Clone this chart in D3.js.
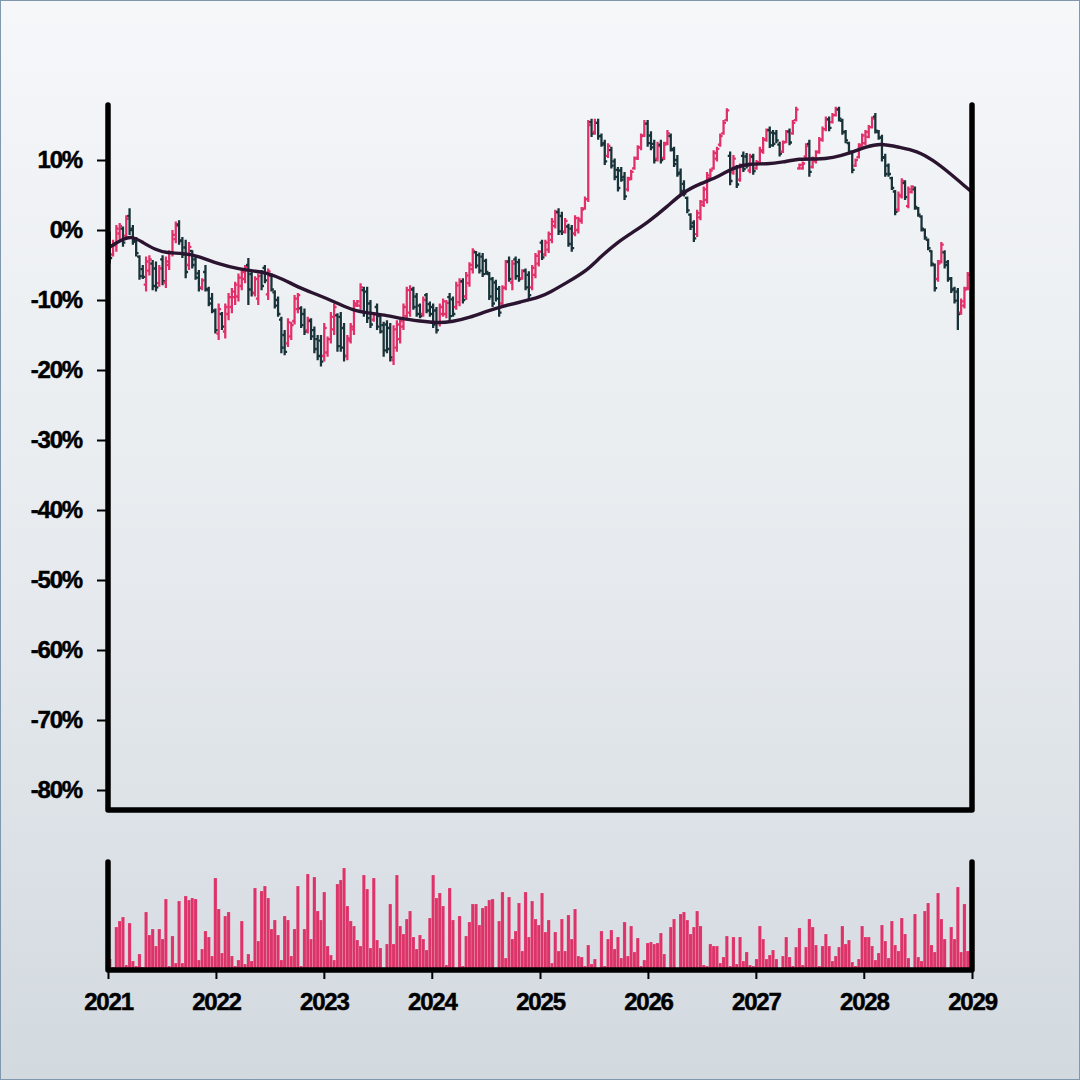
<!DOCTYPE html>
<html>
<head>
<meta charset="utf-8">
<script src="https://cdn.jsdelivr.net/npm/d3@7"></script>
<style>
html,body{margin:0;padding:0;}
body{width:1080px;height:1080px;overflow:hidden;}
</style>
</head>
<body>
<svg id="chart" width="1080" height="1080"></svg>
<script>
// ---------------- DATA (in %) ----------------
const openV = [-1.0,-3.5,-2.2,-0.5,0.2,-0.8,2.0,0.2,-1.5,-3.8,
-5.6,-7.8,-5.8,-4.8,-5.5,-7.6,-4.2,-7.5,-5.0,-3.3,
-1.3,0.8,-1.5,-2.5,-5.0,-3.0,-4.2,-6.2,-8.2,-6.0,
-8.6,-9.8,-11.6,-14.8,-12.0,-14.5,-12.0,-11.0,-9.6,-9.5,
-8.0,-7.0,-5.0,-6.3,-9.0,-9.8,-6.0,-5.4,-9.2,-6.5,
-8.9,-10.0,-12.8,-15.0,-16.2,-15.2,-13.0,-11.3,-11.2,-12.0,
-14.3,-13.0,-14.3,-15.6,-15.8,-18.0,-17.5,-15.6,-14.2,-12.2,
-12.4,-14.0,-18.0,-15.8,-14.2,-10.8,-10.8,-8.6,-8.8,-10.5,
-12.8,-11.0,-12.3,-13.6,-13.5,-14.0,-18.6,-16.8,-15.6,-13.8,
-12.3,-11.8,-8.5,-9.5,-10.8,-12.0,-9.3,-10.6,-11.0,-11.5,
-13.3,-12.0,-12.0,-9.6,-9.9,-11.0,-10.3,-7.3,-9.5,-7.6,
-5.6,-3.2,-3.6,-3.8,-4.4,-6.3,-7.0,-7.5,-8.4,-10.5,
-8.2,-4.5,-7.5,-4.2,-4.6,-6.9,-5.8,-6.4,-8.2,-6.4,
-4.8,-1.8,-3.5,-2.8,-1.4,0.6,2.6,2.0,-0.2,0.5,
0.2,-0.5,0.0,1.3,3.1,4.4,15.4,14.0,15.3,13.4,
12.4,10.6,11.4,9.8,8.6,8.5,7.6,5.8,7.4,8.8,
10.3,11.8,13.5,15.2,13.5,12.3,10.2,12.2,10.3,12.4,
13.4,11.4,10.0,8.2,6.6,4.6,2.2,1.0,-0.6,1.8,
3.6,4.3,7.4,8.8,10.2,12.2,13.8,15.7,10.6,8.2,
8.8,7.2,10.6,10.5,8.5,10.5,8.8,9.6,11.2,12.9,
14.3,13.9,13.8,12.2,11.2,12.6,14.1,13.8,15.7,8.8,
8.8,10.5,12.3,9.0,9.8,11.2,12.9,14.4,15.8,15.4,
16.4,17.2,15.6,14.0,12.4,11.0,9.2,10.4,12.2,12.4,
13.3,14.7,16.2,14.0,13.2,10.4,9.2,7.4,5.5,2.9,
4.8,6.7,3.4,5.4,5.8,3.1,1.9,0.0,-1.4,-3.0,
-5.0,-7.0,-4.5,-3.2,-4.6,-6.9,-8.4,-8.8,-11.8,-10.8,
-8.3];
const highV = [-0.2,-1.4,0.7,1.0,0.5,2.1,3.1,0.7,-1.0,-3.6,
-5.0,-3.8,-3.6,-4.3,-4.5,-5.0,-3.6,-3.8,-2.9,0.0,
1.2,1.4,-1.0,-1.4,-1.7,-2.9,-3.6,-5.7,-6.9,-5.0,
-8.1,-9.0,-11.2,-10.5,-11.7,-10.5,-9.0,-8.3,-7.4,-6.2,
-5.7,-5.0,-4.0,-5.7,-6.6,-6.2,-5.7,-5.0,-5.5,-6.2,
-8.6,-9.5,-12.4,-14.3,-12.6,-13.1,-9.3,-9.0,-10.9,-11.2,
-12.4,-12.6,-13.8,-15.0,-15.0,-13.3,-15.2,-11.7,-10.5,-11.9,
-11.7,-13.3,-15.0,-13.3,-10.0,-10.0,-7.6,-8.1,-8.1,-10.0,
-11.7,-10.5,-11.9,-13.1,-12.9,-13.3,-13.6,-12.9,-12.6,-10.5,
-8.1,-7.9,-8.1,-9.0,-10.5,-9.5,-9.0,-10.2,-10.5,-11.0,
-10.5,-9.8,-10.0,-9.0,-9.5,-7.4,-6.9,-6.9,-6.0,-4.6,
-2.6,-3.0,-3.2,-3.3,-4.1,-6.0,-6.7,-7.1,-8.0,-7.9,
-4.3,-3.8,-4.3,-3.8,-4.1,-5.6,-5.5,-5.9,-5.0,-3.3,
-2.9,-1.4,-1.4,-0.2,1.7,2.9,3.1,2.6,1.7,0.9,
0.7,2.1,1.9,3.3,4.8,15.7,15.9,15.9,15.9,13.8,
12.9,12.4,11.9,10.2,9.0,9.0,8.3,7.6,8.6,10.5,
12.1,13.8,15.7,15.7,14.1,12.9,12.6,12.9,12.6,14.3,
13.8,11.9,10.7,8.8,7.1,4.8,2.4,1.4,2.9,4.3,
6.2,8.3,8.8,11.4,11.9,13.8,15.7,17.4,11.2,10.7,
9.3,9.5,11.2,11.0,10.9,10.9,10.0,11.9,13.3,14.5,
14.8,14.3,14.3,12.6,12.8,14.3,14.5,15.7,17.6,9.5,
9.8,12.4,12.9,10.5,11.4,13.3,14.8,16.2,16.2,16.7,
17.6,17.6,15.9,14.3,12.6,11.4,10.2,12.4,13.8,14.3,
15.0,16.2,16.7,14.3,13.6,10.9,9.5,7.6,5.7,5.5,
7.4,7.1,6.2,6.4,6.2,3.3,2.1,0.2,-1.2,-2.9,
-4.8,-4.3,-1.7,-2.9,-4.3,-6.7,-8.1,-8.3,-9.8,-8.1,
-6.0];
const lowV = [-4.8,-3.8,-3.1,-1.4,-2.4,-1.0,-0.7,-2.1,-3.8,-7.1,
-7.0,-8.8,-6.5,-8.6,-8.8,-8.1,-7.9,-8.3,-5.7,-3.8,
-1.9,-2.1,-4.0,-6.9,-5.7,-5.5,-7.1,-8.8,-8.6,-8.8,
-10.9,-11.9,-14.8,-15.7,-14.3,-15.5,-12.9,-11.9,-10.7,-10.2,
-8.6,-7.6,-10.7,-9.5,-9.5,-10.7,-8.6,-7.6,-10.0,-8.8,
-11.2,-12.4,-17.6,-17.9,-16.7,-15.7,-13.5,-11.9,-14.0,-15.0,
-14.8,-15.7,-17.6,-18.6,-19.5,-18.8,-18.1,-16.2,-15.0,-17.4,
-17.4,-18.8,-18.6,-16.2,-15.0,-11.0,-11.4,-12.4,-13.3,-14.0,
-13.1,-14.3,-14.8,-18.1,-17.6,-18.8,-19.3,-17.4,-16.2,-14.3,
-12.9,-12.4,-11.4,-12.4,-12.6,-12.4,-11.9,-12.4,-14.0,-14.8,
-13.8,-12.4,-12.6,-12.9,-12.4,-11.4,-10.9,-10.5,-10.0,-8.1,
-6.2,-5.5,-6.2,-6.7,-6.4,-10.0,-11.0,-10.2,-12.4,-11.0,
-8.6,-7.4,-8.6,-7.1,-7.4,-7.1,-8.6,-9.9,-8.6,-6.9,
-5.2,-4.3,-3.8,-3.3,-1.9,0.2,-0.7,-0.7,-0.5,-2.4,
-3.1,-0.9,-0.5,0.9,2.9,4.0,13.3,13.6,12.9,11.9,
9.3,10.3,8.8,7.1,5.5,6.9,4.3,5.5,7.1,8.6,
10.0,11.4,13.3,11.9,11.4,9.5,9.8,9.5,10.0,12.1,
11.2,9.0,7.6,5.0,4.8,2.4,0.0,-1.7,-1.0,1.4,
3.3,3.8,7.1,8.6,9.8,11.9,13.6,15.5,6.4,7.9,
6.0,6.9,8.3,8.8,8.1,7.9,8.6,9.3,10.9,12.6,
11.7,11.9,12.4,10.5,11.0,12.4,12.1,13.6,15.5,8.6,
8.6,10.2,7.6,8.8,9.5,10.9,12.6,14.1,14.1,15.2,
16.2,15.5,13.6,12.4,10.9,8.1,9.0,10.2,11.9,12.1,
13.1,14.5,13.8,12.9,9.8,7.6,7.6,5.7,2.1,2.6,
4.5,4.3,3.1,5.2,2.9,1.9,-0.2,-1.4,-2.9,-5.2,
-8.8,-7.4,-4.8,-5.5,-7.4,-9.0,-10.5,-14.3,-12.1,-11.2,
-8.6];
const closeV = [-4.0,-2.0,0.2,0.6,-1.8,1.6,0.0,-1.7,-3.3,-6.6,
-6.7,-4.5,-4.2,-8.0,-8.2,-5.5,-7.3,-4.5,-3.2,-0.7,
0.6,-1.6,-3.5,-6.0,-2.4,-5.0,-6.8,-8.3,-7.2,-8.4,
-10.5,-11.5,-14.3,-11.3,-13.8,-11.0,-9.6,-8.8,-7.8,-6.8,
-6.0,-5.3,-8.5,-9.0,-7.0,-6.6,-8.0,-7.2,-5.9,-8.5,
-10.8,-12.0,-16.8,-17.4,-13.2,-13.6,-9.8,-9.3,-13.6,-14.5,
-12.8,-15.2,-17.0,-18.0,-18.8,-14.0,-15.6,-12.4,-11.0,-16.6,
-16.8,-18.0,-15.5,-13.8,-10.5,-10.2,-8.2,-11.8,-12.6,-13.5,
-12.0,-13.8,-14.5,-17.2,-17.0,-18.2,-14.2,-13.5,-13.0,-11.0,
-8.6,-8.4,-11.0,-12.0,-12.3,-10.0,-11.5,-12.0,-13.5,-14.3,
-11.0,-10.2,-10.4,-12.3,-12.0,-7.9,-7.4,-10.0,-6.5,-5.0,
-3.0,-5.1,-5.8,-6.3,-6.0,-9.5,-10.5,-9.8,-11.8,-8.3,
-4.6,-7.0,-4.8,-6.6,-7.0,-5.9,-8.2,-9.3,-5.4,-3.7,
-3.1,-3.9,-1.8,-0.6,1.2,2.5,-0.2,-0.3,1.3,-2.0,
-2.6,1.7,1.5,2.9,4.4,15.0,13.8,15.3,13.4,12.2,
9.8,12.0,9.2,7.6,6.0,7.2,4.8,7.2,8.3,10.2,
11.8,13.4,15.2,12.4,11.8,10.0,12.0,10.0,12.2,13.8,
11.6,9.4,8.0,5.6,5.2,2.8,0.5,-1.2,2.4,4.0,
5.8,7.8,8.5,11.0,11.6,13.4,15.3,17.1,7.0,10.2,
6.5,9.0,8.7,9.2,10.4,8.4,9.7,11.4,12.9,14.2,
12.1,12.3,12.8,10.9,12.5,14.0,12.5,15.3,17.2,9.3,
9.5,12.0,8.3,10.2,11.1,12.9,14.4,15.8,14.6,16.4,
17.3,15.9,14.0,12.8,11.2,8.6,10.0,12.0,13.5,14.0,
14.7,15.9,14.2,13.2,10.3,8.0,8.0,6.0,2.6,5.0,
7.0,4.7,5.8,6.2,3.3,2.2,0.2,-1.1,-2.6,-4.8,
-8.3,-4.8,-2.1,-5.0,-7.0,-8.6,-10.1,-12.0,-10.2,-8.5,
-6.4];
const volumeV = [9,1,41,47,51,3,45,7,2,14,
1,56,33,39,22,39,29,69,2,32,
5,67,5,72,68,70,69,8,19,37,
31,12,90,59,15,52,56,12,2,8,
47,4,14,7,80,27,77,82,70,39,
48,33,8,52,48,12,39,82,2,39,
94,29,91,57,48,76,22,13,8,84,
88,100,62,47,42,28,22,93,79,20,
90,28,20,0,24,64,24,93,42,34,
49,57,31,19,33,29,18,50,93,70,
75,62,3,80,48,0,52,2,32,46,
64,64,43,60,62,68,69,0,47,76,
10,71,29,37,65,17,76,31,67,49,
43,75,36,48,5,36,17,49,17,53,
29,59,12,11,2,23,4,9,0,37,
2,29,38,19,31,10,46,12,42,16,
30,2,8,25,26,24,25,35,14,0,
41,49,0,54,56,48,34,41,57,42,
3,2,24,22,22,5,11,32,2,31,
4,31,7,16,3,2,9,42,29,9,
13,18,9,0,12,31,11,2,21,40,
3,21,49,41,23,2,22,34,22,7,
12,21,42,24,28,6,2,9,42,31,
31,22,8,15,43,27,10,47,23,17,
50,34,10,0,54,11,7,57,65,23,
16,75,49,29,0,41,29,81,16,64,
17];
// moving-average line, read at fractional years
const maYears = [2021.019,2021.111,2021.222,2021.324,2021.435,2021.546,2021.694,2021.852,2022.009,2022.222,
2022.361,2022.472,2022.620,2022.778,2022.935,2023.120,2023.269,2023.426,2023.583,2023.731,
2023.889,2024.046,2024.194,2024.352,2024.509,2024.657,2024.815,2025.000,2025.093,2025.250,
2025.435,2025.556,2025.713,2025.861,2025.991,2026.176,2026.324,2026.481,2026.667,2026.787,
2026.944,2027.102,2027.250,2027.407,2027.565,2027.713,2027.870,2028.028,2028.148,2028.333,
2028.491,2028.639,2028.796,2028.954,2029.000];
const maValues = [-2.4,-1.5,-0.8,-1.8,-2.8,-3.3,-3.3,-3.8,-4.8,-5.6,
-5.9,-6.1,-7.0,-8.3,-9.2,-10.4,-11.5,-11.9,-12.2,-12.7,
-13.0,-13.3,-13.1,-12.5,-11.6,-10.9,-10.3,-9.6,-8.9,-7.5,
-5.8,-3.9,-1.8,-0.3,1.0,3.3,5.4,6.6,7.7,8.9,
9.5,9.4,9.7,10.2,10.1,10.3,11.0,11.9,12.4,11.8,
11.3,10.0,8.1,6.0,5.4];
const yTicks = [10,0,-10,-20,-30,-40,-50,-60,-70,-80];
const xTickYears = [2021,2022,2023,2024,2025,2026,2027,2028,2029];
const barStartDate = new Date(2021,0,7);
const barStepDays = 11.16;

// ---------------- LAYOUT ----------------
const W = 1080, H = 1080;
const left = 108, right = 972;
const pTop = 105, pBottom = 810;
const vTop = 862, vBottom = 968;
const PINK = "#e0306a", DARK = "#173238", MA = "#2a1430", VOL = "#dc3369";
const FONT = "'Liberation Sans', Arial, Helvetica, sans-serif";

const svg = d3.select("#chart");
const defs = svg.append("defs");
const bg = defs.append("linearGradient").attr("id","bg").attr("x1",0).attr("y1",0).attr("x2",0).attr("y2",1);
bg.append("stop").attr("offset","0%").attr("stop-color","#f5f7f9");
bg.append("stop").attr("offset","55%").attr("stop-color","#e6eaee");
bg.append("stop").attr("offset","100%").attr("stop-color","#d2d9df");
svg.append("rect").attr("x",0).attr("y",0).attr("width",W).attr("height",H).attr("fill","url(#bg)");
svg.append("rect").attr("x",0.5).attr("y",0.5).attr("width",W-1).attr("height",H-1)
  .attr("fill","none").attr("stroke","#7f98b0").attr("stroke-width",1);

const dates = openV.map((_, i) => new Date(barStartDate.getTime() + i * barStepDays * 864e5));
const bars = dates.map((d, i) => ({d, o: openV[i], h: highV[i], l: lowV[i], c: closeV[i], v: volumeV[i]}));

const x = d3.scaleTime().domain([new Date(2021,0,1), new Date(2029,0,1)]).range([left, right]);
const y = d3.scaleLinear().domain([-82.857, 17.857]).range([pBottom, pTop]);
const yv = d3.scaleLinear().domain([0, 106]).range([vBottom, vTop]);

function yearToDate(t){
  const yr = Math.floor(t);
  const a = new Date(yr,0,1).getTime(), b = new Date(yr+1,0,1).getTime();
  return new Date(a + (t - yr) * (b - a));
}

// ---------------- OHLC BARS ----------------
const tw = 2.4;
function barPath(b){
  const cx = x(b.d);
  return `M${cx},${y(b.h)}V${y(b.l)}M${cx-tw},${y(b.o)}H${cx}M${cx},${y(b.c)}H${cx+tw}`;
}
const gBars = svg.append("g");
gBars.selectAll("path.halo").data(bars).join("path")
  .attr("class","halo").attr("d", barPath)
  .attr("fill","none").attr("stroke","rgba(255,255,255,0.5)").attr("stroke-width",3.8);
gBars.selectAll("path.bar").data(bars).join("path")
  .attr("class","bar").attr("d", barPath)
  .attr("fill","none").attr("stroke", b => b.c >= b.o ? PINK : DARK).attr("stroke-width",2.3);

// ---------------- MOVING AVERAGE ----------------
const maData = maYears.map((t, i) => ({d: yearToDate(t), v: maValues[i]}));
svg.append("path").datum(maData)
  .attr("d", d3.line().x(p => x(p.d)).y(p => y(p.v)).curve(d3.curveBasis))
  .attr("fill","none").attr("stroke",MA).attr("stroke-width",3.4).attr("stroke-linejoin","round").attr("stroke-linecap","round");

// ---------------- VOLUME ----------------
const vbw = 3.3;
svg.append("g").selectAll("rect").data(bars).join("rect")
  .attr("x", b => x(b.d) - vbw/2)
  .attr("y", b => yv(b.v))
  .attr("width", vbw)
  .attr("height", b => vBottom - yv(b.v))
  .attr("fill", VOL)
  .attr("stroke","rgba(255,255,255,0.3)").attr("stroke-width",0.5);

// ---------------- AXES ----------------
const axisColor = "#000";
const yAxis = d3.axisLeft(y).tickValues(yTicks).tickFormat(d => d + "%").tickSize(9).tickPadding(15);
const gy = svg.append("g").attr("transform",`translate(${left-2},0)`).call(yAxis);
gy.select(".domain").remove();
gy.selectAll(".tick line").attr("stroke",axisColor).attr("stroke-width",2);
gy.selectAll(".tick text").attr("fill","#000").attr("font-family",FONT)
  .attr("font-weight","bold").attr("font-size",24).style("letter-spacing","-1.2px")
  .attr("stroke","#000").attr("stroke-width",0.5);

const frame = svg.append("g").attr("stroke",axisColor).attr("stroke-width",5.5).attr("stroke-linecap","round").attr("fill","none");
frame.append("path").attr("d",`M${left},${pTop}V${pBottom}H${right}V${pTop}`).attr("stroke-linejoin","round");
frame.append("path").attr("d",`M${left},${vTop}V${vBottom+2}H${right}V${vTop}`).attr("stroke-linejoin","round");

const xAxis = d3.axisBottom(x).tickValues(xTickYears.map(yr => new Date(yr,0,1)))
  .tickFormat(d3.timeFormat("%Y")).tickSize(9).tickPadding(14);
const gx = svg.append("g").attr("transform",`translate(0,${vBottom+2})`).call(xAxis);
gx.select(".domain").remove();
gx.selectAll(".tick line").attr("stroke",axisColor).attr("stroke-width",2);
gx.selectAll(".tick text").attr("fill","#000").attr("font-family",FONT)
  .attr("font-weight","bold").attr("font-size",24).style("letter-spacing","-1.2px")
  .attr("stroke","#000").attr("stroke-width",0.5);
</script>
</body>
</html>
